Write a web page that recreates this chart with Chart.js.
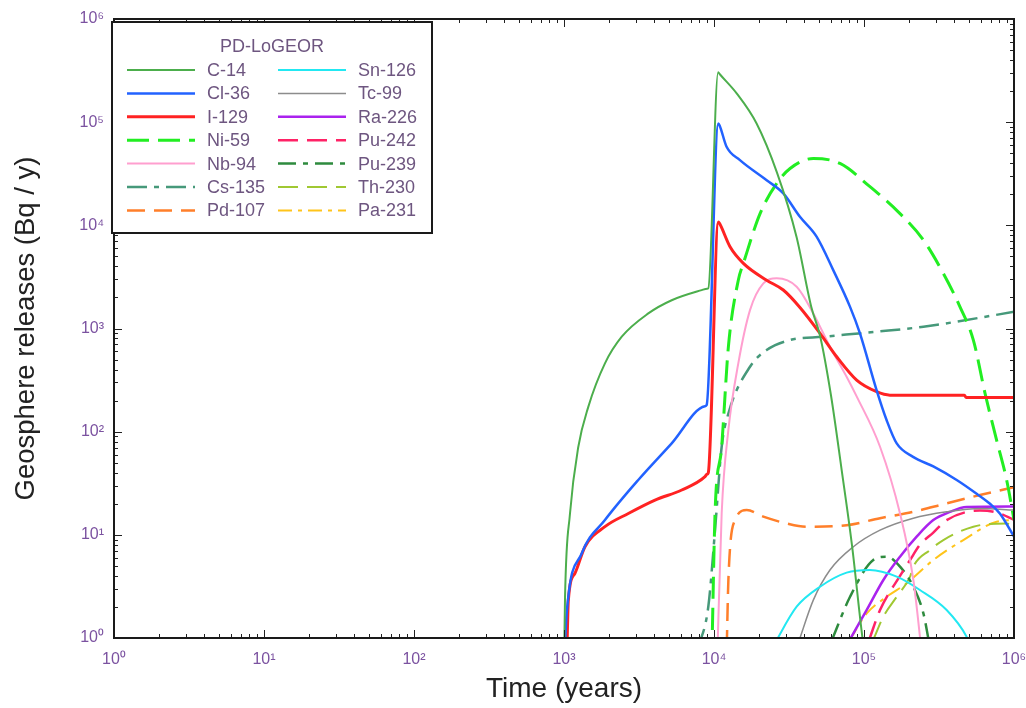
<!DOCTYPE html>
<html>
<head>
<meta charset="utf-8">
<script src="https://cdn.jsdelivr.net/npm/chart.js@4.4.1/dist/chart.umd.min.js"></script>
<style>
  html, body { margin: 0; padding: 0; background: #fff; }
  #wrap { width: 1026px; height: 708px; }
</style>
</head>
<body>
<div id="wrap"><canvas id="releases" width="1026" height="708"></canvas></div>
<script>
// Nuclides, in legend order (two columns of seven)
const nuclides = ['C-14', 'Cl-36', 'I-129', 'Ni-59', 'Nb-94', 'Cs-135', 'Pd-107',
                  'Sn-126', 'Tc-99', 'Ra-226', 'Pu-242', 'Pu-239', 'Th-230', 'Pa-231'];

// Time (years) and geosphere release (Bq/y)
const c14Time = [1000, 1016, 1096, 1245, 1452, 1875, 2427, 3648, 5224, 8279, 9000, 9162, 10660,
                 10900, 14160, 19230, 26300, 35480, 44670, 50930, 60260, 70950, 83180, 97720, 100000];
const c14Rel = [0.5, 2.5, 16, 71, 174, 459, 832, 1400, 1880, 2355, 2430, 2450, 305000,
                293000, 190000, 97000, 32400, 7760, 1585, 851, 224, 42.7, 7.9, 1.0, 0.8];

const cl36Time = [1005, 1042, 1312, 1875, 3126, 5224, 8700, 8933, 10690, 10900, 12130, 14890,
                  22440, 28970, 37410, 48300, 62370, 80720, 93970, 121300, 141600, 165200,
                  212300, 289700, 414900, 563700, 691800, 807200, 1000000];
const cl36Rel = [0.6, 1.73, 6.6, 13.9, 34, 77, 176, 181, 97000, 93000, 57700, 42900,
                 27400, 20400, 12100, 7770, 3680, 1620, 897, 253, 129, 77,
                 57, 46, 34, 25, 20, 16, 9.6];

const i129Time = [1042, 1069, 1183, 1380, 1875, 2685, 4045, 6095, 8710, 8950, 9162, 10690,
                  10900, 12790, 15700, 22440, 28970, 37410, 50930, 65770, 89330, 121300,
                  148900, 467000, 480000, 1000000];
const i129Rel = [0.6, 2.33, 4.24, 7.67, 12, 16.1, 21.7, 27.2, 36.6, 38.5, 40, 10800,
                 10400, 6200, 4280, 2940, 2360, 1600, 897, 532, 316, 244,
                 226, 226, 214, 214];

const ni59Time = [9660, 10160, 11250, 12470, 14520, 15700, 20280, 26180, 32140, 45920, 69180,
                  109600, 173800, 248900, 338100, 436500, 535800, 641200, 765600, 893300, 1000000];
const ni59Rel = [0.6, 16.1, 71.4, 665, 2940, 4280, 13000, 25500, 35600, 44500, 39800,
                 23700, 13000, 7200, 3420, 1620, 773, 235, 83, 34, 14];

const nb94Time = [10500, 11250, 12470, 14520, 17380, 21330, 26180, 35560, 45920, 59290, 76560,
                  89330, 127900, 173800, 213300, 236000, 245000];
const nb94Rel = [0.6, 16.1, 104, 459, 1507, 2735, 3062, 2535, 1400, 665, 341,
                 220, 71.4, 16.1, 3.65, 1.03, 0.6];

const cs135Time = [7850, 9162, 10160, 11250, 12470, 17380, 22440, 32140, 53580, 121300, 248900, 1000000];
const cs135Rel = [0.8, 2.01, 11.1, 71.4, 150, 426, 618, 773, 832, 931, 1040, 1450];

const pd107Time = [12160, 12470, 13800, 16520, 21330, 30480, 41500, 76560, 127900, 213300,
                   355600, 592900, 1000000];
const pd107Rel = [0.8, 3.65, 13.9, 17.4, 15, 12.9, 12, 12.4, 14.5, 16.7, 20.2, 24.3, 29];

const sn126Time = [25000, 35560, 50930, 76560, 109600, 165200, 236000, 355600, 483100, 510000];
const sn126Rel = [0.85, 2.01, 3.14, 4.3, 4.56, 3.93, 2.92, 1.87, 1.03, 0.85];

const tc99Time = [36500, 45920, 59290, 84920, 127900, 213300, 355600, 592900, 1000000];
const tc99Rel = [0.9, 2.33, 4.56, 7.67, 11.1, 14.5, 16.7, 18, 17.4];

const ra226Time = [80000, 104300, 134600, 173800, 224400, 289700, 374100, 483100, 1000000];
const ra226Rel = [0.95, 1.87, 3.65, 6.14, 9.6, 13.9, 16.7, 18.6, 18.8];

const pu242Time = [108000, 127900, 173800, 202800, 236000, 289700, 355600, 593000, 766000, 1000000];
const pu242Rel = [0.95, 1.87, 4.0, 5.7, 8.0, 10.5, 13.9, 17.2, 16.5, 14];

const pu239Time = [61000, 80720, 115300, 141600, 173800, 213300, 248900, 270000];
const pu239Rel = [0.95, 2.51, 5.7, 6.14, 4.91, 3.14, 1.73, 0.95];

const th230Time = [115000, 134600, 165200, 202800, 213300, 275400, 338100, 535800, 893300, 1000000];
const th230Rel = [0.95, 1.61, 2.51, 3.93, 4.91, 7.13, 8.9, 12, 12.9, 12];

const pa231Time = [80000, 104300, 141600, 192300, 289700, 459200, 765600, 1000000];
const pa231Rel = [0.95, 1.73, 2.51, 3.39, 5.7, 8.9, 13.4, 13.9];

const seriesTimes = [c14Time, cl36Time, i129Time, ni59Time, nb94Time, cs135Time, pd107Time,
                     sn126Time, tc99Time, ra226Time, pu242Time, pu239Time, th230Time, pa231Time];
const seriesRels = [c14Rel, cl36Rel, i129Rel, ni59Rel, nb94Rel, cs135Rel, pd107Rel,
                    sn126Rel, tc99Rel, ra226Rel, pu242Rel, pu239Rel, th230Rel, pa231Rel];

// Line styles per nuclide
const styles = [
  {color: '#4cae4c', width: 2,   dash: []},
  {color: '#2262ff', width: 2.5, dash: []},
  {color: '#ff2222', width: 3,   dash: []},
  {color: '#22ee22', width: 3,   dash: [22, 9]},
  {color: '#ff9fcf', width: 2,   dash: []},
  {color: '#46997a', width: 2.5, dash: [20, 7, 5, 7]},
  {color: '#ff7f2a', width: 2.5, dash: [18, 9]},
  {color: '#22e8f2', width: 2,   dash: []},
  {color: '#8c8c8c', width: 1.5, dash: []},
  {color: '#aa22ee', width: 2.5, dash: []},
  {color: '#ff2266', width: 2.5, dash: [20, 9]},
  {color: '#2e8b3e', width: 2.5, dash: [18, 7, 5, 7]},
  {color: '#a0c832', width: 2,   dash: [20, 9]},
  {color: '#ffc41a', width: 2,   dash: [14, 6, 4, 6]}
];

const FONT = 'Liberation Sans, Arial, sans-serif';
const sup = ['\u2070', '\u00b9', '\u00b2', '\u00b3', '\u2074', '\u2075', '\u2076'];

function decadeLabel(value) {
  const e = Math.log10(value);
  const r = Math.round(e);
  return Math.abs(e - r) < 1e-9 ? '10' + sup[r] : '';
}

// inward log ticks, frame and the two-column legend box
const frameAndLegend = {
  id: 'frameAndLegend',
  afterDatasetsDraw(chart) {
    const {ctx, chartArea: a, scales: {x, y}} = chart;
    ctx.save();
    ctx.strokeStyle = '#222';
    ctx.lineWidth = 1;
    ctx.beginPath();
    for (let e = 0; e < 6; e++) {
      for (let m = 1; m < 10; m++) {
        const v = m * Math.pow(10, e);
        const len = m === 1 ? 8 : 4;
        const px = Math.round(x.getPixelForValue(v)) + 0.5;
        ctx.moveTo(px, a.bottom); ctx.lineTo(px, a.bottom - len);
        ctx.moveTo(px, a.top); ctx.lineTo(px, a.top + len);
        const py = Math.round(y.getPixelForValue(v)) + 0.5;
        ctx.moveTo(a.left, py); ctx.lineTo(a.left + len, py);
        ctx.moveTo(a.right, py); ctx.lineTo(a.right - len, py);
      }
    }
    ctx.stroke();
    ctx.lineWidth = 2;
    ctx.strokeStyle = '#1a1a1a';
    ctx.strokeRect(a.left, a.top, a.right - a.left, a.bottom - a.top);

    // legend
    const bx = a.left - 2, by = a.top + 3, bw = 320, bh = 211;
    ctx.fillStyle = '#fff';
    ctx.fillRect(bx, by, bw, bh);
    ctx.lineWidth = 2;
    ctx.strokeStyle = '#1a1a1a';
    ctx.strokeRect(bx, by, bw, bh);
    ctx.fillStyle = '#6e5680';
    ctx.font = '18px ' + FONT;
    ctx.textAlign = 'center';
    ctx.textBaseline = 'middle';
    ctx.fillText('PD-LoGEOR', bx + 160, by + 25);
    ctx.textAlign = 'left';
    chart.data.datasets.forEach((ds, i) => {
      const col = i < 7 ? 0 : 1;
      const row = i % 7;
      const ly = by + 48 + row * 23.4;
      const lx = bx + 15 + col * 151;
      ctx.beginPath();
      ctx.setLineDash(ds.borderDash);
      ctx.lineWidth = ds.borderWidth;
      ctx.strokeStyle = ds.borderColor;
      ctx.moveTo(lx, ly);
      ctx.lineTo(lx + 68, ly);
      ctx.stroke();
      ctx.setLineDash([]);
      ctx.fillStyle = '#6e5680';
      ctx.fillText(ds.label, lx + 80, ly + 1);
    });
    ctx.restore();
  }
};

const datasets = nuclides.map((name, i) => ({
  label: name,
  data: seriesTimes[i].map((t, k) => ({x: t, y: seriesRels[i][k]})),
  borderColor: styles[i].color,
  borderWidth: styles[i].width,
  borderDash: styles[i].dash,
  pointRadius: 0,
  fill: false,
  cubicInterpolationMode: 'monotone'
}));

new Chart(document.getElementById('releases').getContext('2d'), {
  type: 'line',
  data: {datasets: datasets},
  options: {
    responsive: false,
    animation: false,
    layout: {padding: {left: 10, right: 12, top: 19, bottom: 0}},
    plugins: {legend: {display: false}, tooltip: {enabled: false}},
    scales: {
      x: {
        type: 'logarithmic',
        min: 1,
        max: 1e6,
        afterFit: (s) => { s.height = 70; s.paddingLeft = 0; s.paddingRight = 0; },
        grid: {display: false, drawTicks: false},
        border: {display: false},
        ticks: {
          autoSkip: false,
          maxRotation: 0,
          padding: 12,
          color: '#7b52a0',
          font: {family: FONT, size: 16},
          callback: decadeLabel
        },
        title: {
          display: true,
          text: 'Time (years)',
          color: '#222',
          font: {family: FONT, size: 28},
          padding: {top: 0, bottom: 2}
        }
      },
      y: {
        type: 'logarithmic',
        min: 1,
        max: 1e6,
        afterFit: (s) => { s.width = 104; s.paddingTop = 0; s.paddingBottom = 0; },
        grid: {display: false, drawTicks: false},
        border: {display: false},
        ticks: {
          autoSkip: false,
          padding: 10,
          color: '#7b52a0',
          font: {family: FONT, size: 16},
          callback: decadeLabel
        },
        title: {
          display: true,
          text: 'Geosphere releases (Bq / y)',
          color: '#222',
          font: {family: FONT, size: 27.5},
          padding: {top: 0, bottom: 4}
        }
      }
    }
  },
  plugins: [frameAndLegend]
});
</script>
</body>
</html>
